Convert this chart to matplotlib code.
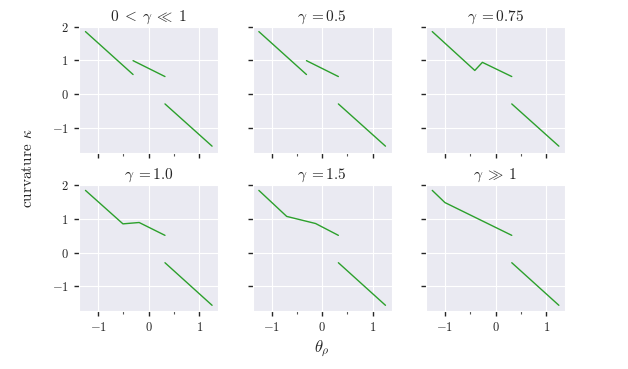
import numpy as np
import matplotlib
matplotlib.use('Agg')
import matplotlib.pyplot as plt
import seaborn as sns

# nan breaks a line into pieces
titles = [r'$0\;<\;\gamma\;\ll\;1$', r'$\gamma\;=$0.5', r'$\gamma\;=$0.75',
          r'$\gamma\;=$1.0', r'$\gamma\;=$1.5', r'$\gamma\;\gg\;1$']

theta = [
    [-1.25, -0.31, np.nan, -0.31, 0.32, np.nan, 0.32, 1.25],
    [-1.25, -0.31, np.nan, -0.31, 0.32, np.nan, 0.32, 1.25],
    [-1.25, -0.41, -0.26, 0.32, np.nan, 0.32, 1.25],
    [-1.25, -0.51, -0.19, 0.32, np.nan, 0.32, 1.25],
    [-1.25, -0.70, -0.13, 0.32, np.nan, 0.32, 1.25],
    [-1.25, -1.00, 0.32, np.nan, 0.32, 1.25],
]
kappa = [
    [1.85, 0.58, np.nan, 0.99, 0.52, np.nan, -0.29, -1.54],
    [1.85, 0.58, np.nan, 0.99, 0.52, np.nan, -0.29, -1.54],
    [1.85, 0.70, 0.94, 0.52, np.nan, -0.29, -1.54],
    [1.84, 0.85, 0.89, 0.51, np.nan, -0.30, -1.56],
    [1.84, 1.07, 0.86, 0.51, np.nan, -0.30, -1.56],
    [1.84, 1.48, 0.51, np.nan, -0.30, -1.56],
]

sns.set_style('darkgrid')
plt.rcParams['font.family'] = 'cmr10'
plt.rcParams['mathtext.fontset'] = 'cm'
plt.rcParams['axes.formatter.use_mathtext'] = True

fig, axes = plt.subplots(2, 3, sharex=True, sharey=True, figsize=(6.28, 3.69), dpi=100)
fig.subplots_adjust(left=0.126, right=0.9, top=0.93, bottom=0.157, wspace=0.245, hspace=0.25)

for i, ax in enumerate(axes.flat):
    ax.plot(theta[i], kappa[i], color='#2ca02c', linewidth=1)
    ax.set_title(titles[i], fontsize=11, pad=3)
    ax.set_xticks([-1, 0, 1])
    ax.set_xticks([-0.5, 0.5], minor=True)
    ax.set_yticks([-1, 0, 1, 2])
    ax.tick_params(axis='both', which='major', length=3.5, width=1, color='#262626',
                   labelsize=9, pad=4, bottom=True, left=True)
    ax.tick_params(axis='x', which='minor', length=2, width=0.8, color='#555555', bottom=True)
    ax.grid(which='major', linewidth=0.8)
    ax.grid(which='minor', visible=False)

fig.text(0.045, 0.545, r'curvature $\kappa$', rotation=90, ha='center', va='center', fontsize=11)
fig.text(0.512, 0.055, r'$\theta_\rho$', ha='center', va='center', fontsize=12)

plt.savefig('out.png', dpi=100)
